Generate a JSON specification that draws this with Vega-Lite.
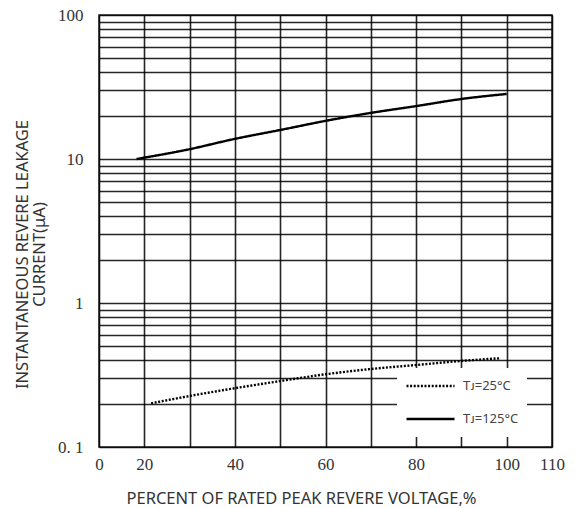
{
  "$schema": "https://vega.github.io/schema/vega-lite/v6.json",
  "width": 453,
  "height": 432,
  "autosize": "none",
  "padding": {"left": 99, "top": 15, "right": 32, "bottom": 61},
  "background": "white",
  "config": {
    "view": {"stroke": "#222", "strokeWidth": 1.5},
    "axis": {
      "domain": false, "ticks": false,
      "labelFont": "Liberation Serif", "labelFontSize": 17, "labelColor": "#333",
      "labelFlush": false, "labelOverlap": false,
      "titleFont": "Noto Sans", "titleFontSize": 16.5, "titleFontWeight": "normal", "titleColor": "#333"
    }
  },
  "data": {
    "values": [
      {"series": "Tᴊ=125°C", "x": 18.3, "y": 10.0},
      {"series": "Tᴊ=125°C", "x": 30, "y": 11.7},
      {"series": "Tᴊ=125°C", "x": 40, "y": 13.8},
      {"series": "Tᴊ=125°C", "x": 50, "y": 15.9},
      {"series": "Tᴊ=125°C", "x": 60, "y": 18.4},
      {"series": "Tᴊ=125°C", "x": 70, "y": 20.9},
      {"series": "Tᴊ=125°C", "x": 80, "y": 23.3},
      {"series": "Tᴊ=125°C", "x": 90, "y": 26.1},
      {"series": "Tᴊ=125°C", "x": 100, "y": 28.3},
      {"series": "Tᴊ=25°C", "x": 21.5, "y": 0.201},
      {"series": "Tᴊ=25°C", "x": 30, "y": 0.226},
      {"series": "Tᴊ=25°C", "x": 40, "y": 0.256},
      {"series": "Tᴊ=25°C", "x": 50, "y": 0.287},
      {"series": "Tᴊ=25°C", "x": 60, "y": 0.32},
      {"series": "Tᴊ=25°C", "x": 70, "y": 0.348},
      {"series": "Tᴊ=25°C", "x": 80, "y": 0.371},
      {"series": "Tᴊ=25°C", "x": 90, "y": 0.396},
      {"series": "Tᴊ=25°C", "x": 98.4, "y": 0.413}
    ]
  },
  "mark": {"type": "line", "color": "black", "strokeWidth": 2.4, "interpolate": "monotone"},
  "encoding": {
    "x": {
      "field": "x", "type": "quantitative",
      "scale": {"domain": [10, 110], "nice": false, "zero": false},
      "axis": {
        "grid": true, "gridColor": "black", "gridWidth": 1.6, "gridOpacity": 0.85,
        "values": [10, 20, 30, 40, 50, 60, 70, 80, 90, 100, 110],
        "labelExpr": "datum.value == 10 ? '0' : (datum.value == 30 || datum.value == 50 || datum.value == 70 || datum.value == 90 ? '' : datum.label)",
        "labelPadding": 9,
        "title": "PERCENT OF RATED PEAK REVERE VOLTAGE,%",
        "titleX": 202, "titleY": 51, "titleBaseline": "middle", "titleAlign": "center"
      }
    },
    "y": {
      "field": "y", "type": "quantitative",
      "scale": {"type": "log", "domain": [0.1, 100], "nice": false},
      "axis": {
        "grid": true, "gridColor": "black", "gridWidth": 1.4, "gridOpacity": 0.85,
        "values": [0.1, 0.2, 0.3, 0.4, 0.5, 0.6, 0.7, 0.8, 0.9, 1, 2, 3, 4, 5, 6, 7, 8, 9, 10, 20, 30, 40, 50, 60, 70, 80, 90, 100],
        "labelExpr": "datum.value == 0.1 ? '0. 1' : (datum.value == 1 ? '1' : (datum.value == 10 ? '10' : (datum.value == 100 ? '100' : '')))",
        "labelPadding": 16,
        "title": ["INSTANTANEOUS REVERE LEAKAGE", "\u00a0\u00a0\u00a0\u00a0\u00a0\u00a0\u00a0\u00a0\u00a0\u00a0\u00a0\u00a0\u00a0CURRENT(μA)"],
        "titleAngle": -90, "titleX": -77, "titleY": 239, "titleBaseline": "middle", "titleAlign": "center", "titleLineHeight": 17
      }
    },
    "strokeDash": {
      "field": "series", "type": "nominal",
      "scale": {"domain": ["Tᴊ=25°C", "Tᴊ=125°C"], "range": [[2, 1.6], [1, 0]]},
      "legend": {
        "title": null, "orient": "none", "legendX": 298, "legendY": 353,
        "fillColor": "white", "padding": 8, "zindex": 2,
        "symbolType": "stroke", "symbolSize": 2304, "symbolStrokeWidth": 2.6, "symbolStrokeColor": "black",
        "clipHeight": 20, "rowPadding": 13, "labelOffset": 7,
        "labelFont": "Noto Sans", "labelFontSize": 13, "labelColor": "#444"
      }
    }
  }
}
